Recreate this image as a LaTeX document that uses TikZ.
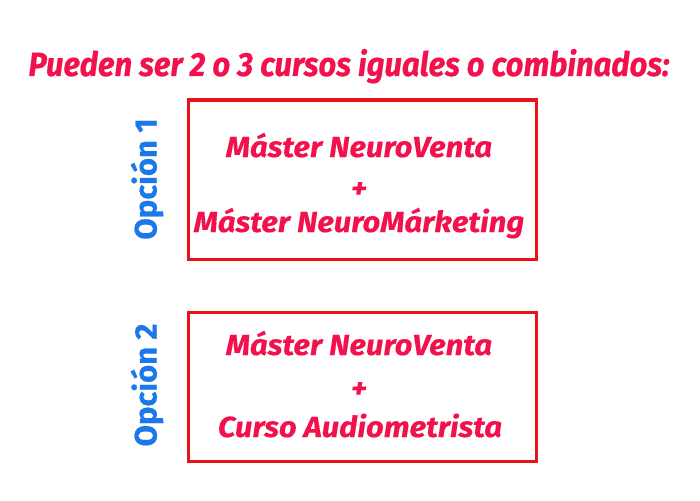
\documentclass[tikz,border=0pt]{standalone}
\usepackage{fontspec}
\setmainfont{Fira Sans}
\newfontfamily\titlef[FakeStretch=0.927,FakeBold=0.6]{Fira Sans}
\newfontfamily\boxf[FakeStretch=1.07,FakeBold=0.3]{Fira Sans}
\newfontfamily\optf[FakeBold=0.5]{Fira Sans}
\definecolor{txtred}{HTML}{F2114C}
\definecolor{boxred}{HTML}{E8121A}
\definecolor{optblue}{HTML}{1C78E8}
\tikzset{
  coursebox/.style={draw=boxred, line width=3pt},
  courseline/.style={font=\boxf\bfseries\itshape\fontsize{29}{30}\selectfont, text=txtred, anchor=base, inner sep=0pt},
  optlabel/.style={font=\optf\bfseries\fontsize{31}{32}\selectfont, text=optblue, rotate=90, inner sep=0pt},
}
\begin{document}
\begin{tikzpicture}[x=1pt,y=-1pt]
\useasboundingbox (0,0) rectangle (700,500);
\fill[white] (0,0) rectangle (700,500);
\node[font=\titlef\bfseries\itshape\fontsize{33.5}{36}\selectfont, text=txtred, anchor=base, inner sep=0pt] (title) at (349,76) {Pueden ser 2 o 3 cursos iguales o combinados:};
\draw[coursebox] (188,100) rectangle (536,259);
\draw[coursebox] (188,312) rectangle (536,461);
\node[courseline] (a1) at (359,157) {Máster NeuroVenta};
\node[courseline] (a2) at (359,198) {+};
\node[courseline] (a3) at (359,232) {Máster NeuroMárketing};
\node[courseline] (b1) at (359,355) {Máster NeuroVenta};
\node[courseline] (b2) at (359,398) {+};
\node[courseline] (b3) at (360,437) {Curso Audiometrista};
\node[optlabel] (o1) at (147,179) {Opción 1};
\node[optlabel] (o2) at (147,385) {Opción 2};
\end{tikzpicture}
\end{document}
